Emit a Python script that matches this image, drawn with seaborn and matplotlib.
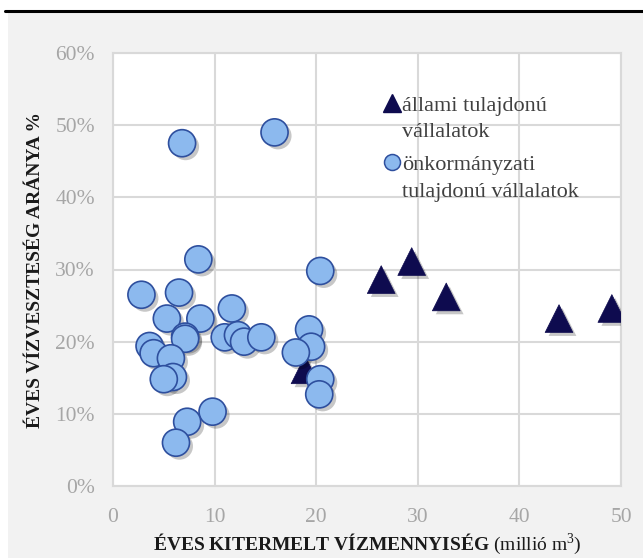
import matplotlib
matplotlib.use("Agg")
import matplotlib.pyplot as plt
import matplotlib.patheffects as pe
from matplotlib.patches import Rectangle
from matplotlib.lines import Line2D
from matplotlib.legend_handler import HandlerLine2D
from matplotlib.ticker import PercentFormatter
import seaborn as sns
import pandas as pd
import numpy as np

# ---- data ----
allami_x = [26.4, 29.4, 32.8, 43.9, 49.1, 18.9]
allami_y = [28.6, 31.1, 26.2, 23.2, 24.6, 16.1]

onk_x = [6.8, 15.9, 8.4, 2.8, 6.5, 5.3, 8.6, 11.7, 7.1, 7.1, 11.0, 12.3, 12.9, 14.6,
         3.6, 4.0, 5.7, 5.9, 5.0, 19.3, 19.5, 18.0, 20.4, 20.3, 9.8, 7.3, 6.2, 20.4]
onk_y = [47.5, 49.0, 31.4, 26.5, 26.8, 23.2, 23.2, 24.6, 20.7, 20.4, 20.6, 20.9, 20.0, 20.6,
         19.4, 18.4, 17.7, 15.1, 14.8, 21.7, 19.3, 18.5, 14.8, 12.7, 10.3, 8.9, 6.0, 29.8]

labels = ["állami tulajdonú\nvállalatok", "önkormányzati\ntulajdonú vállalatok"]
x_ticks = [0, 10, 20, 30, 40, 50]
y_ticks = [0, 10, 20, 30, 40, 50, 60]

TRI_COLOR = "#0e0b4f"
CIR_FACE = "#8cb9ee"
CIR_EDGE = "#2e4f9e"

df_a = pd.DataFrame({"x": allami_x, "y": allami_y})
df_o = pd.DataFrame({"x": onk_x, "y": onk_y})

sns.set_style("white")
plt.rcParams["font.family"] = ["Liberation Serif", "DejaVu Serif"]
plt.rcParams["mathtext.fontset"] = "custom"
plt.rcParams["mathtext.rm"] = "Liberation Serif"
plt.rcParams["mathtext.bf"] = "Liberation Serif:bold"
plt.rcParams["mathtext.it"] = "Liberation Serif:italic"

fig = plt.figure(figsize=(6.43, 5.58), dpi=100)
fig.patch.set_facecolor("white")
fig.add_artist(Rectangle((8 / 643, 0), 1, 1 - 13 / 558, transform=fig.transFigure,
                         facecolor="#f2f2f2", edgecolor="none", zorder=-10))
fig.add_artist(Line2D([5 / 643, 1], [1 - 11 / 558, 1 - 11 / 558], transform=fig.transFigure,
                      color="black", lw=2.2))

ax = fig.add_axes([113 / 643, 1 - 486 / 558, (621 - 113) / 643, (486 - 53) / 558])
ax.set_facecolor("white")

shadow = [pe.SimplePatchShadow(offset=(2.5, -2.5), shadow_rgbFace="black", alpha=0.22), pe.Normal()]

sns.scatterplot(data=df_a, x="x", y="y", ax=ax, marker="^", s=400,
                color=TRI_COLOR, edgecolor=TRI_COLOR, linewidth=0.5, zorder=3, legend=False)
sns.scatterplot(data=df_o, x="x", y="y", ax=ax, marker="o", s=380,
                color=CIR_FACE, edgecolor=CIR_EDGE, linewidth=1.2, zorder=4, legend=False)
for coll in ax.collections:
    coll.set_path_effects(shadow)

ax.set_xlim(0, 50)
ax.set_ylim(0, 60)
ax.set_xticks(x_ticks)
ax.set_yticks(y_ticks)
ax.yaxis.set_major_formatter(PercentFormatter(decimals=0))
ax.grid(True, color="#d9d9d9", lw=1.5)
ax.set_axisbelow(True)
for s in ax.spines.values():
    s.set_color("#d9d9d9")
    s.set_linewidth(1.5)
ax.tick_params(axis="both", length=0, labelsize=15.5, labelcolor="#a6a6a6")
ax.tick_params(axis="x", pad=16)
ax.tick_params(axis="y", pad=13)

ax.set_xlabel(r"$\mathbf{ÉVES\ KITERMELT\ VÍZMENNYISÉG}$ (millió m$^3$)",
              fontsize=14, color="#1a1a1a", labelpad=3)
ax.set_ylabel("ÉVES VÍZVESZTESÉG ARÁNYA %", fontsize=14, fontweight="bold",
              color="#1a1a1a", labelpad=8)


class TopHandler(HandlerLine2D):
    """Place the legend marker at the first text line."""
    def __init__(self, shift, **kw):
        super().__init__(**kw)
        self.shift = shift

    def create_artists(self, legend, orig_handle, xdescent, ydescent, width, height,
                       fontsize, trans):
        arts = super().create_artists(legend, orig_handle, xdescent, ydescent, width,
                                      height, fontsize, trans)
        for a in arts:
            a.set_ydata(np.asarray(a.get_ydata()) + self.shift)
        return arts


h_tri = Line2D([], [], linestyle="none", marker="^", markersize=12.5,
               markerfacecolor=TRI_COLOR, markeredgecolor=TRI_COLOR)
h_cir = Line2D([], [], linestyle="none", marker="o", markersize=11.5,
               markerfacecolor=CIR_FACE, markeredgecolor=CIR_EDGE, markeredgewidth=1.1)
fs_leg = 16
shift = 11.5
leg = ax.legend(handles=[h_tri, h_cir], labels=labels,
                loc="upper left", bbox_to_anchor=(0.515, 0.92), frameon=False,
                fontsize=fs_leg, labelcolor="#404040", handletextpad=0.05,
                handlelength=0.8, labelspacing=0.62, borderaxespad=0,
                handler_map={h_tri: TopHandler(shift), h_cir: TopHandler(shift)})
for t in leg.get_texts():
    t.set_linespacing(1.56)

fig.savefig("out.png", dpi=100, facecolor=fig.get_facecolor())
